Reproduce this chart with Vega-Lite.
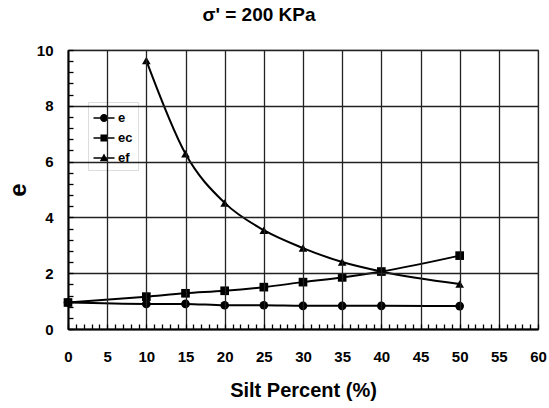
{
  "$schema": "https://vega.github.io/schema/vega-lite/v6.json",
  "width": 470,
  "height": 279,
  "autosize": {"type": "none"},
  "padding": {"left": 68, "top": 50, "right": 11, "bottom": 79},
  "background": "white",
  "title": {"text": "σ' = 200 KPa", "font": "Liberation Sans", "fontSize": 19, "fontWeight": "bold", "anchor": "middle", "dx": -44, "offset": 18, "color": "black"},
  "config": {
    "view": {"stroke": "#666", "strokeWidth": 1.2},
    "font": "Liberation Sans"
  },
  "data": {"values": [
    {"silt": 0, "series": "e", "value": 0.95},
    {"silt": 10, "series": "e", "value": 0.9},
    {"silt": 15, "series": "e", "value": 0.9},
    {"silt": 20, "series": "e", "value": 0.85},
    {"silt": 25, "series": "e", "value": 0.85},
    {"silt": 30, "series": "e", "value": 0.83},
    {"silt": 35, "series": "e", "value": 0.83},
    {"silt": 40, "series": "e", "value": 0.83},
    {"silt": 50, "series": "e", "value": 0.82},
    {"silt": 0, "series": "ec", "value": 0.95},
    {"silt": 10, "series": "ec", "value": 1.16},
    {"silt": 15, "series": "ec", "value": 1.28},
    {"silt": 20, "series": "ec", "value": 1.37},
    {"silt": 25, "series": "ec", "value": 1.5},
    {"silt": 30, "series": "ec", "value": 1.68},
    {"silt": 35, "series": "ec", "value": 1.85},
    {"silt": 40, "series": "ec", "value": 2.06},
    {"silt": 50, "series": "ec", "value": 2.63},
    {"silt": 10, "series": "ef", "value": 9.62},
    {"silt": 15, "series": "ef", "value": 6.28},
    {"silt": 20, "series": "ef", "value": 4.52},
    {"silt": 25, "series": "ef", "value": 3.54},
    {"silt": 30, "series": "ef", "value": 2.9},
    {"silt": 35, "series": "ef", "value": 2.4},
    {"silt": 40, "series": "ef", "value": 2.06},
    {"silt": 50, "series": "ef", "value": 1.61}
  ]},
  "encoding": {
    "x": {
      "field": "silt", "type": "quantitative",
      "scale": {"domain": [0, 60], "nice": false},
      "axis": {
        "title": "Silt Percent (%)",
        "titleFontSize": 20, "titleFontWeight": "bold", "titleColor": "black", "titlePadding": 16,
        "values": [0,1,2,3,4,5,6,7,8,9,10,11,12,13,14,15,16,17,18,19,20,21,22,23,24,25,26,27,28,29,30,31,32,33,34,35,36,37,38,39,40,41,42,43,44,45,46,47,48,49,50,51,52,53,54,55,56,57,58,59,60],
        "labelExpr": "datum.value % 5 === 0 ? format(datum.value, 'd') : ''",
        "labelOverlap": false,
        "labelFontSize": 15, "labelFontWeight": "bold", "labelColor": "black", "labelPadding": 25,
        "labelFlush": false,
        "tickSize": -5, "tickColor": "black", "tickWidth": 1.3,
        "domainColor": "black", "domainWidth": 2,
        "zindex": 1,
        "grid": true,
        "gridColor": "#222", "gridWidth": 1.3,
        "gridOpacity": {"condition": {"test": "datum.value % 5 === 0", "value": 1}, "value": 0}
      }
    },
    "y": {
      "field": "value", "type": "quantitative",
      "scale": {"domain": [0, 10], "nice": false},
      "axis": {
        "title": "e",
        "titleFontSize": 24, "titleFontWeight": "bold", "titleColor": "black", "titlePadding": 6,
        "values": [0,0.4,0.8,1.2,1.6,2,2.4,2.8,3.2,3.6,4,4.4,4.8,5.2,5.6,6,6.4,6.8,7.2,7.6,8,8.4,8.8,9.2,9.6,10],
        "labelExpr": "datum.value % 2 === 0 ? format(datum.value, 'd') : ''",
        "labelOverlap": false,
        "labelFontSize": 15, "labelFontWeight": "bold", "labelColor": "black", "labelPadding": 20,
        "labelFlush": false,
        "tickSize": -5, "tickColor": "black", "tickWidth": 1.3,
        "domainColor": "black", "domainWidth": 2,
        "zindex": 1,
        "grid": true,
        "gridColor": "#222", "gridWidth": 1.3,
        "gridOpacity": {"condition": {"test": "datum.value % 2 === 0", "value": 1}, "value": 0}
      }
    }
  },
  "layer": [
    {
      "mark": {"type": "line", "interpolate": "monotone", "color": "black", "strokeWidth": 2},
      "encoding": {"detail": {"field": "series"}}
    },
    {
      "mark": {"type": "point", "filled": true, "color": "black", "size": 75, "opacity": 1},
      "encoding": {
        "shape": {"field": "series", "type": "nominal", "scale": {"domain": ["e", "ec", "ef"], "range": ["circle", "square", "triangle-up"]}, "legend": null}
      }
    },
    {
      "mark": {"type": "point", "filled": true, "color": "black", "opacity": 0},
      "encoding": {
        "shape": {
          "field": "series", "type": "nominal",
          "scale": {"domain": ["e", "ec", "ef"], "range": [
            "M-1,-0.08H1V0.08H-1ZM0.38,0A0.38,0.38,0,1,1,-0.38,0A0.38,0.38,0,1,1,0.38,0Z",
            "M-1,-0.08H1V0.08H-1ZM-0.34,-0.34H0.34V0.34H-0.34Z",
            "M-1,-0.08H1V0.08H-1ZM0,-0.42L0.4,0.3H-0.4Z"
          ]},
          "legend": {
            "title": null,
            "orient": "none", "legendX": 20, "legendY": 52,
            "symbolSize": 441, "symbolOpacity": 1,
            "symbolFillColor": "black", "symbolStrokeColor": "black", "symbolStrokeWidth": 0.5,
            "labelFontSize": 13, "labelFontWeight": "bold", "labelColor": "black", "labelOffset": 3,
            "rowPadding": 2, "padding": 5,
            "fillColor": "white", "strokeColor": "#ddd",
            "encode": {
              "symbols": {"update": {
                "fill": {"value": "black"},
                "fillOpacity": {"value": 1},
                "opacity": {"value": 1}
              }}
            }
          }
        }
      }
    }
  ],
  "resolve": {"scale": {"shape": "independent"}}
}
